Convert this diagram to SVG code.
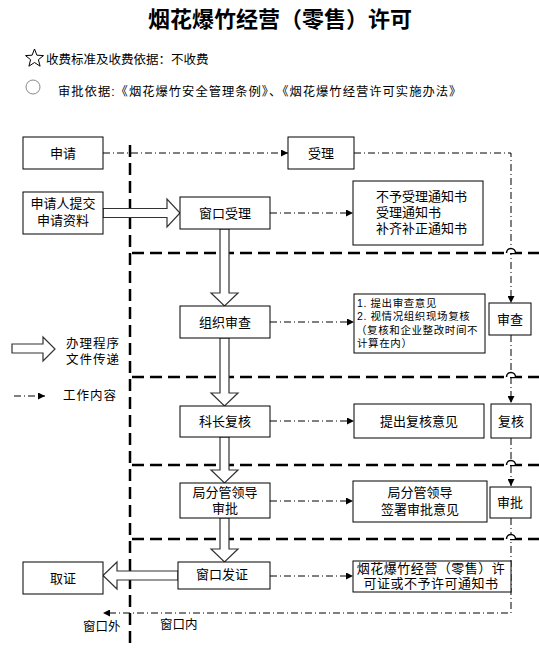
<svg xmlns="http://www.w3.org/2000/svg" width="539" height="651" viewBox="0 0 539 651">
<style>
text{font-family:"Liberation Sans","Noto Sans CJK SC",sans-serif;fill:#000}
.t{font-size:13px;text-anchor:middle}
.s{font-size:10.5px;letter-spacing:0.6px}
.box{fill:#fff;stroke:#000;stroke-width:1}
.dd{fill:none;stroke:#000;stroke-width:1;stroke-dasharray:7 3 1 3}
.ld{fill:none;stroke:#000;stroke-width:2.5;stroke-dasharray:12 6}
.ba{fill:#fff;stroke:#333;stroke-width:1.2}
.hop{fill:#fff;stroke:#000;stroke-width:1.5}
</style>
<defs>
<marker id="ah" viewBox="0 0 10 10" refX="10" refY="5" markerWidth="7" markerHeight="7" markerUnits="userSpaceOnUse" orient="auto">
<path d="M0,0 L10,5 L0,10 z" fill="#000"/>
</marker>
</defs>

<g id="header">
<text x="280" y="27" font-size="22" font-weight="bold" text-anchor="middle">烟花爆竹经营（零售）许可</text>
<polygon points="34.5,49 36.9,55.2 43.5,55.6 38.4,59.7 40.1,66.2 34.5,62.5 28.9,66.2 30.6,59.7 25.5,55.6 32.1,55.2" fill="#fff" stroke="#000" stroke-width="1"/>
<text x="46" y="64" font-size="12.5">收费标准及收费依据：不收费</text>
<circle cx="33" cy="87" r="7" fill="#fff" stroke="#888" stroke-width="1"/>
<text x="58" y="96" font-size="12.3" letter-spacing="1">审批依据:《烟花爆竹安全管理条例》、《烟花爆竹经营许可实施办法》</text>
</g>

<g id="lanes">
<line class="ld" x1="130" y1="145" x2="130" y2="645"/>
<line class="ld" x1="132" y1="253" x2="539" y2="253"/>
<line class="ld" x1="132" y1="377" x2="539" y2="377"/>
<line class="ld" x1="132" y1="465" x2="539" y2="465"/>
<line class="ld" x1="132" y1="539" x2="539" y2="539"/>
</g>

<g id="connectors">
<path class="dd" d="M103,153 H288" marker-end="url(#ah)"/>
<path class="dd" d="M354,153 H511 V303" marker-end="url(#ah)"/>
<path class="dd" d="M511,335 V403" marker-end="url(#ah)"/>
<path class="dd" d="M511,438 V486" marker-end="url(#ah)"/>
<path class="dd" d="M511,518 V613 H103" marker-end="url(#ah)"/>
<path class="dd" d="M270,213 H353" marker-end="url(#ah)"/>
<path class="dd" d="M270,322 H354" marker-end="url(#ah)"/>
<path class="dd" d="M270,421 H354" marker-end="url(#ah)"/>
<path class="dd" d="M270,501 H353" marker-end="url(#ah)"/>
<path class="dd" d="M270,576 H353" marker-end="url(#ah)"/>
<path class="hop" d="M506.5,253 a4.5,4.5 0 0 1 9,0"/>
<path class="hop" d="M506.5,377 a4.5,4.5 0 0 1 9,0"/>
<path class="hop" d="M506.5,465 a4.5,4.5 0 0 1 9,0"/>
<path class="hop" d="M506.5,539 a4.5,4.5 0 0 1 9,0"/>
<polygon class="ba" points="103,208.5 167,208.5 167,199 180,213 167,227 167,217.5 103,217.5"/>
<polygon class="ba" points="220,229 229,229 229,293 238,293 224.5,306 211,293 220,293"/>
<polygon class="ba" points="220,338 229,338 229,393 238,393 224.5,406 211,393 220,393"/>
<polygon class="ba" points="220,437 229,437 229,470 238,470 224.5,483 211,470 220,470"/>
<polygon class="ba" points="220,518 229,518 229,549 238,549 224.5,562 211,549 220,549"/>
<polygon class="ba" points="178,571 117,571 117,562 103,575.5 117,589 117,580 178,580"/>
</g>

<g id="legend">
<polygon class="ba" points="12,344 43,344 43,337 55,349 43,361 43,353 12,353"/>
<text x="66" y="348" font-size="12.5" letter-spacing="1">办理程序</text>
<text x="66" y="364" font-size="12.5" letter-spacing="1">文件传递</text>
<path class="dd" d="M14,396 H45" marker-end="url(#ah)"/>
<text x="63" y="400" font-size="12.5" letter-spacing="1">工作内容</text>
</g>

<g id="n-shenqing"><rect class="box" x="23" y="137" width="80" height="32"/><text class="t" x="63" y="158">申请</text></g>
<g id="n-shouli"><rect class="box" x="288" y="137" width="66" height="32"/><text class="t" x="321" y="158">受理</text></g>
<g id="n-tijiao"><rect class="box" x="23" y="192" width="80" height="42"/><text class="t" x="63" y="208">申请人提交</text><text class="t" x="63" y="225">申请资料</text></g>
<g id="n-chuangkoushouli"><rect class="box" x="180" y="197" width="90" height="32"/><text class="t" x="225" y="218">窗口受理</text></g>
<g id="n-tongzhi"><rect class="box" x="353" y="181" width="130" height="64"/><text x="376" y="201" font-size="13">不予受理通知书</text><text x="376" y="217" font-size="13">受理通知书</text><text x="376" y="233" font-size="13">补齐补正通知书</text></g>
<g id="n-zuzhishencha"><rect class="box" x="180" y="306" width="90" height="32"/><text class="t" x="225" y="327">组织审查</text></g>
<g id="n-yijian"><rect class="box" x="354" y="294" width="131" height="59"/><text class="s" x="357" y="307">1. 提出审查意见</text><text class="s" x="357" y="320">2. 视情况组织现场复核</text><text class="s" x="356" y="334">（复核和企业整改时间不</text><text class="s" x="357" y="347">计算在内）</text></g>
<g id="n-shencha"><rect class="box" x="489" y="303" width="42" height="32"/><text class="t" x="510" y="324">审查</text></g>
<g id="n-kezhang"><rect class="box" x="180" y="406" width="90" height="31"/><text class="t" x="225" y="426">科长复核</text></g>
<g id="n-fuheyijian"><rect class="box" x="354" y="404" width="130" height="34"/><text class="t" x="419" y="426">提出复核意见</text></g>
<g id="n-fuhe"><rect class="box" x="491" y="404" width="40" height="34" stroke-width="2"/><text class="t" x="511" y="426">复核</text></g>
<g id="n-juling"><rect class="box" x="180" y="483" width="90" height="35"/><text class="t" x="225" y="497">局分管领导</text><text class="t" x="225" y="513">审批</text></g>
<g id="n-qianshu"><rect class="box" x="353" y="481" width="134" height="41"/><text class="t" x="420" y="497">局分管领导</text><text class="t" x="420" y="514">签署审批意见</text></g>
<g id="n-shenpi"><rect class="box" x="490" y="487" width="41" height="31"/><text class="t" x="510" y="507">审批</text></g>
<g id="n-fazheng"><rect class="box" x="178" y="562" width="92" height="27"/><text class="t" x="222" y="579">窗口发证</text></g>
<g id="n-xukezheng"><rect class="box" x="353" y="561" width="158" height="31"/><text class="t" x="431" y="573" font-size="12.5" letter-spacing="0.5">烟花爆竹经营（零售）许</text><text class="t" x="431" y="588" font-size="12.5" letter-spacing="0.5">可证或不予许可通知书</text></g>
<g id="n-quzheng"><rect class="box" x="23" y="562" width="80" height="32"/><text class="t" x="63" y="583">取证</text></g>

<g id="labels">
<text x="83" y="631" font-size="12.5">窗口外</text>
<text x="160" y="629" font-size="12.5">窗口内</text>
</g>
</svg>
